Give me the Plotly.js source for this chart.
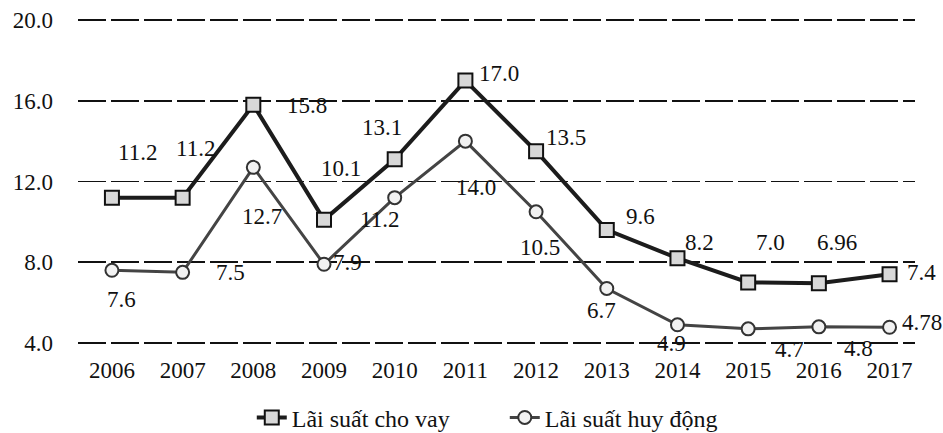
<!DOCTYPE html>
<html>
<head>
<meta charset="utf-8">
<script src="https://cdn.plot.ly/plotly-3.0.1.min.js"></script>
<style>html,body{margin:0;padding:0;background:#fff;}#chart{width:943px;height:433px;}</style>
</head>
<body>
<div id="chart"></div>
<script>
var years = ["2006","2007","2008","2009","2010","2011","2012","2013","2014","2015","2016","2017"];
var choVay = [11.2, 11.2, 15.8, 10.1, 13.1, 17.0, 13.5, 9.6, 8.2, 7.0, 6.96, 7.4];
var huyDong = [7.6, 7.5, 12.7, 7.9, 11.2, 14.0, 10.5, 6.7, 4.9, 4.7, 4.8, 4.78];
var choVayLabels = ["11.2","11.2","15.8","10.1","13.1","17.0","13.5","9.6","8.2","7.0","6.96","7.4"];
var huyDongLabels = ["7.6","7.5","12.7","7.9","11.2","14.0","10.5","6.7","4.9","4.7","4.8","4.78"];
var yTicks = [4, 8, 12, 16, 20];
var yTickText = ["4.0","8.0","12.0","16.0","20.0"];
var seriesNames = ["Lãi suất cho vay", "Lãi suất huy động"];

// label offsets (pixels, screen dx/dy) relative to each point
var choVayOff = [[26,-45],[13,-49],[54,1],[17,-51],[-13,-32],[34,-7],[30,-14],[34,-13],[22,-16],[22,-40],[18,-41],[32,-2]];
var huyDongOff = [[10,29],[48,0],[9,49],[23,-2],[-15,22],[11,46],[4,36],[-5,22],[-6,19],[41,21],[40,22],[32,-5]];

var FONT = "Liberation Serif, Times New Roman, serif";

var traces = [
  {
    x: years, y: choVay, name: seriesNames[0], type: "scatter", mode: "lines+markers",
    line: {color: "#1c1c1c", width: 4},
    marker: {symbol: "square", size: 14, color: "#d8d8d8", line: {color: "#111", width: 2}},
    cliponaxis: false
  },
  {
    x: years, y: huyDong, name: seriesNames[1], type: "scatter", mode: "lines+markers",
    line: {color: "#444", width: 3},
    marker: {symbol: "circle", size: 13, color: "#f2f2f2", line: {color: "#333", width: 2}},
    cliponaxis: false
  }
];

var annotations = [];
function addLabels(vals, labels, offs) {
  for (var i = 0; i < vals.length; i++) {
    annotations.push({
      x: i, y: vals[i], xref: "x", yref: "y", text: labels[i], showarrow: false,
      xshift: offs[i][0], yshift: -offs[i][1],
      font: {family: FONT, size: 23, color: "#111"}
    });
  }
}
addLabels(choVay, choVayLabels, choVayOff);
addLabels(huyDong, huyDongLabels, huyDongOff);

var layout = {
  width: 943, height: 433,
  margin: {l: 78, r: 28, t: 18, b: 88, autoexpand: false},
  paper_bgcolor: "#fff", plot_bgcolor: "#fff",
  font: {family: FONT, size: 23, color: "#111"},
  showlegend: true,
  legend: {orientation: "h", x: 0.267, xref: "container", xanchor: "left",
           y: 0.035, yref: "container", yanchor: "middle",
           entrywidth: 208, entrywidthmode: "pixels",
           font: {family: FONT, size: 24, color: "#111"}},
  xaxis: {
    type: "category", range: [-0.48, 11.36], showgrid: false, zeroline: false, showline: false,
    automargin: false,
    ticks: "", ticklabelstandoff: 9, tickfont: {family: FONT, size: 23, color: "#111"}
  },
  yaxis: {
    range: [3.9, 20.1], tickvals: yTicks, ticktext: yTickText, showgrid: true, automargin: false,
    gridcolor: "#111", gridwidth: 1.5, griddash: "28px,5px", zeroline: false, showline: false,
    ticks: "", ticklabelstandoff: 24, tickfont: {family: FONT, size: 23, color: "#111"}
  },
  annotations: annotations
};

Plotly.newPlot("chart", traces, layout, {displayModeBar: false, staticPlot: true});
</script>
</body>
</html>
